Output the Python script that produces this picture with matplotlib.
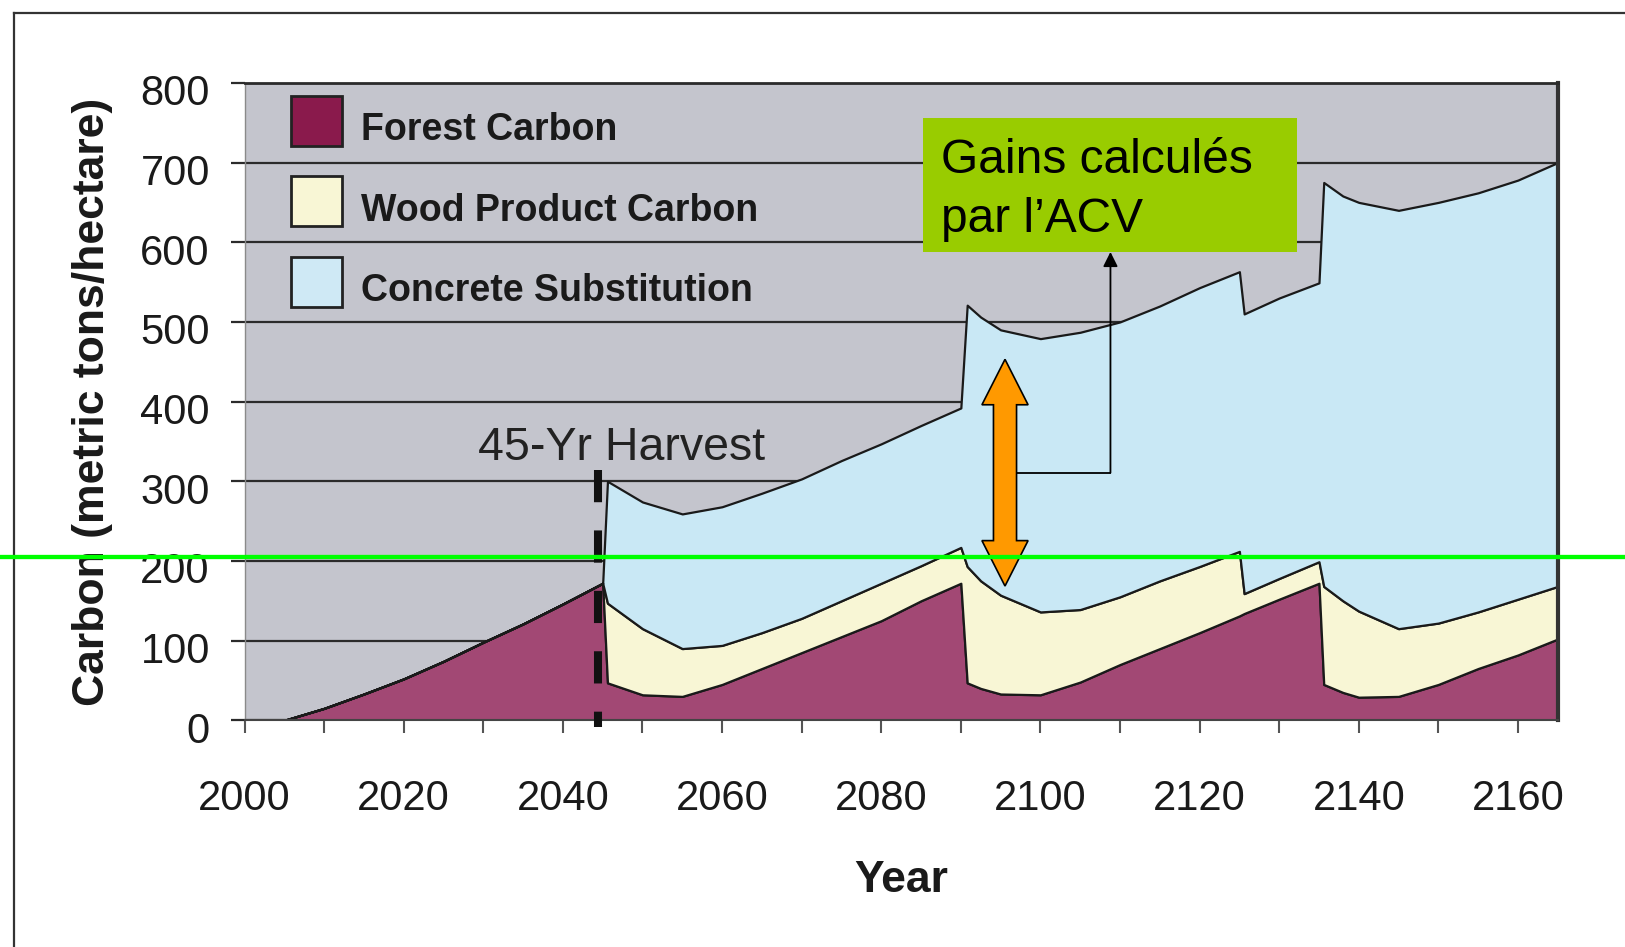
import numpy as np
import matplotlib
matplotlib.use('Agg')
import matplotlib.pyplot as plt
from matplotlib.patches import Patch, Rectangle, Polygon
from matplotlib.lines import Line2D
import matplotlib.transforms as mtransforms

plt.rcParams['font.family'] = ['Liberation Sans', 'DejaVu Sans']

# ---------------- data ----------------
years = [2000, 2005, 2010, 2015, 2020, 2025, 2030, 2035, 2040, 2045,
         2045.6, 2050, 2055, 2060, 2065, 2070, 2075, 2080, 2085, 2090,
         2090.8, 2092.5, 2095, 2100, 2105, 2110, 2115, 2120, 2125,
         2125.6, 2130, 2135,
         2135.6, 2138, 2140, 2145, 2150, 2155, 2160, 2165]

forest_carbon = [0, 0, 15, 33, 52, 74, 98, 121, 146, 172,
                 47, 32, 30, 45, 65, 85, 105, 125, 150, 172,
                 47, 40, 33, 32, 48, 70, 90, 110, 131,
                 134, 152, 172,
                 45, 35, 29, 30, 45, 65, 82, 102]

wood_product_carbon = [0, 0, 0, 0, 0, 0, 0, 0, 0, 0,
                       100, 83, 60, 49, 45, 43, 45, 47, 44, 45,
                       146, 135, 124, 104, 91, 85, 85, 83, 81,
                       25, 26, 27,
                       123, 115, 108, 85, 77, 71, 70, 66]

concrete_substitution = [0, 0, 0, 0, 0, 0, 0, 0, 0, 0,
                         153, 159, 169, 174, 175, 175, 176, 175, 176, 175,
                         328, 331, 333, 343, 348, 345, 345, 350, 351,
                         351, 352, 350,
                         507, 508, 513, 525, 528, 526, 526, 532]

series_labels = ['Forest Carbon', 'Wood Product Carbon', 'Concrete Substitution']
x_ticks = [2000, 2020, 2040, 2060, 2080, 2100, 2120, 2140, 2160]
x_minor_ticks = [2010, 2030, 2050, 2070, 2090, 2110, 2130, 2150]
y_ticks = [0, 100, 200, 300, 400, 500, 600, 700, 800]

harvest_year = 2044.45
harvest_label = '45-Yr Harvest'
reference_level = 205
callout_lines = ['Gains calculés', 'par l\u2019ACV']
gain_arrow_year = 2095.55
gain_arrow_range = (168.5, 453)

# ---------------- styling ----------------
fill_colors = ['#a24874', '#f8f6d5', '#c9e8f5']
legend_colors = ['#8a1a4c', '#f8f6d5', '#cfe9f5']
bg_color = '#c4c5cd'

fig = plt.figure(figsize=(16.25, 9.47), dpi=100)
ax = fig.add_axes([0.1505, 0.2394, 0.8081, 0.6731])
ax.set_facecolor(bg_color)
ax.set_xlim(2000, 2165)
ax.set_ylim(0, 800)

ax.yaxis.grid(True, color='#2b2b2b', lw=1.6)
ax.set_axisbelow(True)

ax.stackplot(years, forest_carbon, wood_product_carbon, concrete_substitution,
             colors=fill_colors, edgecolor='#1a1a1a', linewidth=1.6, zorder=2)

# ticks
ax.set_xticks(x_ticks)
ax.set_xticks(x_minor_ticks, minor=True)
ax.set_yticks(y_ticks)
ax.tick_params(axis='x', which='both', direction='out', length=9.5, width=1.5,
               color='#555555', labelsize=30, pad=33, labelcolor='#1a1a1a')
ax.tick_params(axis='y', direction='out', length=10, width=1.6,
               color='#2b2b2b', labelsize=30, pad=15, labelcolor='#1a1a1a')
offset = mtransforms.ScaledTranslation(0, -7 / 100, fig.dpi_scale_trans)
for lab in ax.get_yticklabels():
    lab.set_transform(lab.get_transform() + offset)

for side, col, lw in [('top', '#2b2b2b', 2), ('right', '#333333', 3),
                      ('left', '#8a8a8a', 1), ('bottom', '#444444', 1.5)]:
    ax.spines[side].set_color(col)
    ax.spines[side].set_linewidth(lw)

ax.set_ylabel('Carbon (metric tons/hectare)', fontsize=32, fontweight='bold',
              va='center', color='#1a1a1a')
ax.yaxis.set_label_coords(-0.1155, 0.5)
ax.set_xlabel('Year', fontsize=32, fontweight='bold', va='center', color='#1a1a1a')
ax.xaxis.set_label_coords(0.5, -0.252)

# legend
handles = [Patch(facecolor=c, edgecolor='#222222', linewidth=2) for c in legend_colors]
leg = ax.legend(handles, series_labels, loc='upper left',
                bbox_to_anchor=(0.0352, 0.9794), frameon=False, borderpad=0,
                borderaxespad=0, prop={'weight': 'bold', 'size': 27},
                handlelength=1.36, handleheight=1.674, labelspacing=0.81,
                handletextpad=0.51)
text_shift = mtransforms.ScaledTranslation(0, -7 / 100, fig.dpi_scale_trans)
for t in leg.get_texts():
    t.set_color('#1a1a1a')
    t.set_transform(t.get_transform() + text_shift)

# harvest marker
ax.plot([harvest_year, harvest_year], [314, -8], color='#111111', lw=5.8,
        dashes=(4, 3.5), solid_capstyle='butt', dash_capstyle='butt',
        clip_on=False, zorder=4)
ax.text(2047.35, 326.5, harvest_label, fontsize=33.5, ha='center', va='baseline',
        color='#222222', zorder=4)

# callout box
ax.add_patch(Rectangle((2085.2, 587.8), 2132.3 - 2085.2, 755.6 - 587.8,
                       facecolor='#99cc00', edgecolor='none', zorder=5))
ax.text(2087.5, 686.3, callout_lines[0], fontsize=34.5, ha='left', va='baseline',
        color='black', zorder=6)
ax.text(2087.5, 613.0, callout_lines[1], fontsize=34.5, ha='left', va='baseline',
        color='black', zorder=6)

# orange double arrow
cx = gain_arrow_year
yb, yt = gain_arrow_range
head_len, shaft_half, head_half = 57, 1.45, 2.9
verts = [(cx, yt), (cx + head_half, yt - head_len), (cx + shaft_half, yt - head_len),
         (cx + shaft_half, yb + head_len), (cx + head_half, yb + head_len), (cx, yb),
         (cx - head_half, yb + head_len), (cx - shaft_half, yb + head_len),
         (cx - shaft_half, yt - head_len), (cx - head_half, yt - head_len)]
ax.add_patch(Polygon(verts, closed=True, facecolor='#ff9900', edgecolor='black',
                     linewidth=1.2, zorder=7))

# connector from arrow to callout
ax.plot([cx + shaft_half, 2108.8], [310.7, 310.7], color='black', lw=1.3, zorder=6)
ax.annotate('', xy=(2108.8, 587.8), xytext=(2108.8, 310.7),
            arrowprops=dict(arrowstyle='-|>', color='black', lw=1.3,
                            mutation_scale=22, shrinkA=0, shrinkB=0), zorder=6)

# green reference line across the whole figure
trans = mtransforms.blended_transform_factory(fig.transFigure, ax.transData)
fig.add_artist(Line2D([0, 1], [reference_level, reference_level], transform=trans,
                      color='#00ff00', lw=3.1, zorder=20))

# outer frame lines
fig.add_artist(Line2D([0.0089, 1], [0.9865, 0.9865], transform=fig.transFigure,
                      color='#333333', lw=1.6))
fig.add_artist(Line2D([0.0089, 0.0089], [0, 0.9865], transform=fig.transFigure,
                      color='#333333', lw=1.6))

fig.savefig('out.png', dpi=100, facecolor='white')
